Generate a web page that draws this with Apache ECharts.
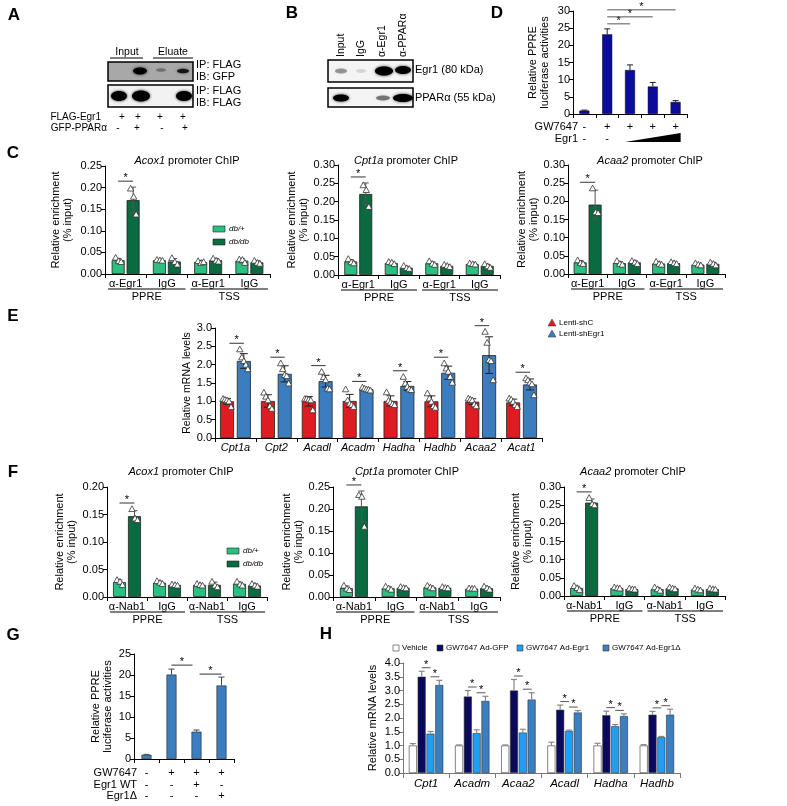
<!DOCTYPE html>
<html><head><meta charset="utf-8">
<script src="https://cdn.jsdelivr.net/npm/echarts@6/dist/echarts.min.js"></script>
<style>html,body{margin:0;padding:0;background:#fff}#c{width:787px;height:806px}</style>
</head><body><div id="c"></div>
<script>
const FONT = '"Liberation Sans", Arial, Helvetica, sans-serif';

// ---------- Panel D ----------
const dCats = ['c1','c2','c3','c4','c5'];
const dGW7647 = ['-','+','+','+','+'];
const dEgr1 = ['-','-'];
const dLuc = [1.0, 23.2, 12.8, 8.0, 3.5];
const dLucErr = [0.15, 1.6, 1.5, 1.2, 0.4];
const dSigPairs = [[1,2],[1,3],[1,4]];

// ---------- Panel C (ChIP with α-Egr1) ----------
const chipEgr1Cats = ['α-Egr1','IgG','α-Egr1','IgG'];
const chipNab1Cats = ['α-Nab1','IgG','α-Nab1','IgG'];
const chipGroups = ['PPRE','TSS'];

const cAcox1Plus = [0.032, 0.032, 0.028, 0.031];
const cAcox1PlusSd = [0.004, 0.002, 0.003, 0.005];
const cAcox1PlusPts = [[0.038,0.030,0.028],[0.033,0.032,0.031],[0.030,0.026,0.028],[0.034,0.033,0.026]];
const cAcox1Db = [0.171, 0.029, 0.032, 0.027];
const cAcox1DbSd = [0.030, 0.007, 0.004, 0.004];
const cAcox1DbPts = [[0.198,0.179,0.138],[0.037,0.028,0.022],[0.036,0.031,0.029],[0.031,0.026,0.024]];

const cCpt1aPlus = [0.037, 0.033, 0.032, 0.030];
const cCpt1aPlusSd = [0.005, 0.003, 0.004, 0.002];
const cCpt1aPlusPts = [[0.044,0.035,0.032],[0.036,0.034,0.030],[0.038,0.031,0.028],[0.032,0.030,0.029]];
const cCpt1aDb = [0.221, 0.020, 0.025, 0.025];
const cCpt1aDbSd = [0.030, 0.003, 0.003, 0.004];
const cCpt1aDbPts = [[0.245,0.232,0.186],[0.025,0.019,0.017],[0.028,0.025,0.022],[0.030,0.024,0.020]];

const cAcaa2Plus = [0.032, 0.030, 0.029, 0.026];
const cAcaa2PlusSd = [0.005, 0.004, 0.004, 0.003];
const cAcaa2PlusPts = [[0.038,0.030,0.028],[0.036,0.028,0.026],[0.034,0.028,0.026],[0.030,0.026,0.024]];
const cAcaa2Db = [0.191, 0.032, 0.030, 0.028];
const cAcaa2DbSd = [0.040, 0.004, 0.003, 0.004];
const cAcaa2DbPts = [[0.236,0.170,0.168],[0.036,0.032,0.028],[0.033,0.030,0.028],[0.032,0.028,0.024]];

// ---------- Panel E ----------
const eGenes = ['Cpt1a','Cpt2','Acadl','Acadm','Hadha','Hadhb','Acaa2','Acat1'];
const eShC = [1.00, 1.01, 1.00, 1.01, 1.01, 1.00, 0.99, 0.97];
const eShCSd = [0.08, 0.17, 0.13, 0.18, 0.14, 0.15, 0.08, 0.09];
const eShCPts = [[1.07,1.05,1.03,1.00,0.85],[1.24,1.13,1.03,0.87,0.80],[1.07,1.07,1.05,1.03,0.76],[1.33,1.03,0.94,0.90,0.85],
                 [1.25,1.02,0.97,0.93,0.90],[1.22,1.08,0.99,0.87,0.83],[1.08,1.05,1.03,0.92,0.87],[1.08,1.05,0.99,0.90,0.85]];
const eShEgr1 = [2.10, 1.75, 1.55, 1.33, 1.42, 1.78, 2.26, 1.46];
const eShEgr1Sd = [0.20, 0.22, 0.16, 0.03, 0.12, 0.18, 0.50, 0.15];
const eShEgr1Pts = [[2.42,2.20,2.10,2.00,1.88],[2.04,1.88,1.72,1.69,1.49],[1.81,1.66,1.58,1.35,1.33],[1.38,1.35,1.33,1.32,1.30],
                    [1.67,1.49,1.40,1.33,1.31],[2.04,1.90,1.81,1.67,1.51],[2.90,2.60,2.13,2.10,1.58],[1.63,1.58,1.51,1.47,1.17]];

// ---------- Panel F (ChIP with α-Nab1) ----------
const fAcox1Plus = [0.027, 0.026, 0.022, 0.024];
const fAcox1PlusSd = [0.004, 0.003, 0.002, 0.003];
const fAcox1PlusPts = [[0.031,0.028,0.022],[0.029,0.026,0.024],[0.024,0.022,0.021],[0.028,0.023,0.021]];
const fAcox1Db = [0.147, 0.022, 0.022, 0.021];
const fAcox1DbSd = [0.010, 0.001, 0.005, 0.003];
const fAcox1DbPts = [[0.160,0.143,0.140],[0.023,0.022,0.021],[0.028,0.021,0.018],[0.024,0.021,0.019]];

const fCpt1aPlus = [0.020, 0.020, 0.022, 0.019];
const fCpt1aPlusSd = [0.005, 0.003, 0.003, 0.001];
const fCpt1aPlusPts = [[0.026,0.019,0.016],[0.024,0.020,0.017],[0.026,0.022,0.020],[0.020,0.019,0.019]];
const fCpt1aDb = [0.206, 0.021, 0.021, 0.020];
const fCpt1aDbSd = [0.035, 0.002, 0.002, 0.003];
const fCpt1aDbPts = [[0.232,0.228,0.160],[0.023,0.021,0.020],[0.023,0.021,0.020],[0.024,0.020,0.017]];

const fAcaa2Plus = [0.022, 0.022, 0.019, 0.018];
const fAcaa2PlusSd = [0.005, 0.002, 0.004, 0.002];
const fAcaa2PlusPts = [[0.028,0.022,0.017],[0.024,0.022,0.021],[0.024,0.019,0.015],[0.021,0.018,0.016]];
const fAcaa2Db = [0.257, 0.019, 0.021, 0.019];
const fAcaa2DbSd = [0.010, 0.002, 0.002, 0.002];
const fAcaa2DbPts = [[0.270,0.253,0.250],[0.021,0.019,0.018],[0.024,0.021,0.019],[0.021,0.019,0.018]];

// ---------- Panel G ----------
const gCats = ['g1','g2','g3','g4'];
const gGW7647 = ['-','+','+','+'];
const gEgr1WT = ['-','-','+','-'];
const gEgr1Delta = ['-','-','-','+'];
const gLuc = [1.0, 20.1, 6.5, 17.5];
const gLucErr = [0.1, 1.3, 0.4, 2.0];

// ---------- Panel H ----------
const hGenes = ['Cpt1','Acadm','Acaa2','Acadl','Hadha','Hadhb'];
const hSeriesNames = ['Vehicle','GW7647 Ad-GFP','GW7647 Ad-Egr1','GW7647 Ad-Egr1Δ'];
const hVehicle = [1.0, 1.0, 1.0, 1.0, 1.0, 1.0];
const hVehicleErr = [0.07, 0.02, 0.02, 0.12, 0.08, 0.03];
const hGFP = [3.5, 2.78, 3.0, 2.3, 2.1, 2.12];
const hGFPErr = [0.2, 0.22, 0.4, 0.17, 0.15, 0.12];
const hEgr1 = [1.43, 1.45, 1.47, 1.53, 1.70, 1.30];
const hEgr1Err = [0.08, 0.12, 0.12, 0.03, 0.06, 0.03];
const hDelta = [3.2, 2.62, 2.67, 2.2, 2.07, 2.12];
const hDeltaErr = [0.17, 0.17, 0.25, 0.07, 0.08, 0.2];

// ---------- colours ----------
const C_LIGHT = '#2bc07f', C_DARK = '#0a6a40';
const C_RED = '#e11b22', C_BLUE = '#3b7dbf';
const C_NAVY = '#0b0b9c';
const H_COLORS = ['#ffffff', '#0a0a5c', '#1e9ef5', '#3b7fc1'];

const chart = echarts.init(document.getElementById('c'));
const grids = [], xAxes = [], yAxes = [], series = [];

function addGrid(l, t, w, h) { grids.push({left:l, top:t, width:w, height:h}); return grids.length - 1; }
function catAxis(gi, data, o) {
  o = o || {};
  return {type:'category', gridIndex:gi, data:data, boundaryGap:true,
    axisLine:{lineStyle:{color:o.lineColor||'#000', width:1}},
    axisTick:{show:true, length:o.tickLen||4, lineStyle:{color:o.lineColor||'#000'}},
    axisLabel:{show:o.showLabel!==false, interval:0, color:'#000', fontFamily:FONT, fontSize:o.size||11,
      fontStyle:o.italic?'italic':'normal', margin:o.margin||4}};
}
function valAxis(gi, max, interval, dec, name, gap, o) {
  o = o || {};
  return {type:'value', gridIndex:gi, min:0, max:max, interval:interval,
    splitLine:{show:false},
    axisLine:{show:true, lineStyle:{color:o.lineColor||'#000', width:1}},
    axisTick:{show:true, length:4, lineStyle:{color:o.lineColor||'#000'}},
    axisLabel:{color:'#000', fontFamily:FONT, fontSize:o.size||11, margin:3, formatter:v => v.toFixed(dec)},
    name:name, nameLocation:'middle', nameGap:gap, nameRotate:90,
    nameTextStyle:{color:'#000', fontFamily:FONT, fontSize:o.nameSize||11, lineHeight:12}};
}
function barS(gi, data, color, bw, gap, o) {
  o = o || {};
  return {type:'bar', xAxisIndex:gi, yAxisIndex:gi, data:data, barWidth:bw, barGap:gap, z:2,
    itemStyle:{color:color, borderColor:o.border||'#222', borderWidth:o.bwid==null?0.8:o.bwid}, silent:true};
}
function errS(gi, means, sds, pts, offset, o) {
  return {type:'custom', xAxisIndex:gi, yAxisIndex:gi, z:5, silent:true,
    data: means.map((m, i) => [i, m, sds[i]]),
    renderItem: function (params, api) {
      const i = api.value(0), m = api.value(1), sd = api.value(2);
      const x = api.coord([i, m])[0] + offset;
      const yt = api.coord([i, m + sd])[1];
      const yb = api.coord([i, o.both ? m - sd : m])[1];
      const st = {stroke:o.color, lineWidth:o.lw || 1};
      const ch = [
        {type:'line', shape:{x1:x, y1:yt, x2:x, y2:yb}, style:st},
        {type:'line', shape:{x1:x - o.cap, y1:yt, x2:x + o.cap, y2:yt}, style:st}
      ];
      if (o.both) ch.push({type:'line', shape:{x1:x - o.cap, y1:yb, x2:x + o.cap, y2:yb}, style:st});
      if (pts) {
        const s = o.tri || 3.2;
        pts[i].forEach((p, k) => {
          const y = api.coord([i, p])[1];
          const px = x + o.jit[k % o.jit.length];
          ch.push({type:'polygon', shape:{points:[[px, y - s], [px - s, y + s * 0.8], [px + s, y + s * 0.8]]},
            style:{fill:'#fff', stroke:'#333', lineWidth:0.8}});
        });
      }
      return {type:'group', children:ch};
    }};
}

const chipErr = {both:true, color:'#555', cap:3, jit:[-2.5, 0.5, 3], tri:3.2};
const chipPanels = [];
function chip(l, t, w, h, cats, ymax, gap, plus, plusSd, plusPts, db, dbSd, dbPts, title, titleX, titleY) {
  const gi = addGrid(l, t, w, h);
  xAxes.push(catAxis(gi, cats, {}));
  yAxes.push(valAxis(gi, ymax, 0.05, 2, 'Relative enrichment\n(% input)', gap, {}));
  series.push(barS(gi, plus, C_LIGHT, 13, '15%'));
  series.push(barS(gi, db, C_DARK, 13, '15%'));
  series.push(errS(gi, plus, plusSd, plusPts, -7.5, chipErr));
  series.push(errS(gi, db, dbSd, dbPts, 7.5, chipErr));
  chipPanels.push({gi, db, dbSd, dbPts, title, titleX, titleY});
  return gi;
}

// D
const gD = addGrid(573, 11, 114, 103);
xAxes.push(catAxis(gD, dCats, {showLabel:false}));
yAxes.push(valAxis(gD, 30, 5, 0, 'Relative PPRE\nluciferase activities', 22, {}));
series.push(barS(gD, dLuc, C_NAVY, 10, '0%', {border:'#000', bwid:0.5}));
series.push(errS(gD, dLuc, dLucErr, null, 0, {both:false, color:'#222', cap:3}));

// C
chip(105, 166, 165, 108, chipEgr1Cats, 0.25, 31, cAcox1Plus, cAcox1PlusSd, cAcox1PlusPts, cAcox1Db, cAcox1DbSd, cAcox1DbPts, 'Acox1', 187, 161);
chip(338, 165, 162, 110, chipEgr1Cats, 0.30, 28, cCpt1aPlus, cCpt1aPlusSd, cCpt1aPlusPts, cCpt1aDb, cCpt1aDbSd, cCpt1aDbPts, 'Cpt1a', 406, 161);
chip(568, 165, 157, 109, chipEgr1Cats, 0.30, 26, cAcaa2Plus, cAcaa2PlusSd, cAcaa2PlusPts, cAcaa2Db, cAcaa2DbSd, cAcaa2DbPts, 'Acaa2', 650, 161);

// E
const gE = addGrid(215, 328, 327, 110);
xAxes.push(catAxis(gE, eGenes, {italic:true, size:11, margin:4}));
yAxes.push(valAxis(gE, 3.0, 0.5, 1, 'Relative mRNA levels', 22, {nameSize:10.5}));
series.push(barS(gE, eShC, C_RED, 14, '20%'));
series.push(barS(gE, eShEgr1, C_BLUE, 14, '20%'));
const eErr = {both:true, color:'#222', cap:4, jit:[-4, -2, 0, 2, 4], tri:3.2};
series.push(errS(gE, eShC, eShCSd, eShCPts, -8.4, eErr));
series.push(errS(gE, eShEgr1, eShEgr1Sd, eShEgr1Pts, 8.4, eErr));

// F
chip(107, 487, 160, 110, chipNab1Cats, 0.20, 29, fAcox1Plus, fAcox1PlusSd, fAcox1PlusPts, fAcox1Db, fAcox1DbSd, fAcox1DbPts, 'Acox1', 181, 472);
chip(333, 487, 167, 110, chipNab1Cats, 0.25, 26, fCpt1aPlus, fCpt1aPlusSd, fCpt1aPlusPts, fCpt1aDb, fCpt1aDbSd, fCpt1aDbPts, 'Cpt1a', 407, 472);
chip(564, 487, 161, 109, chipNab1Cats, 0.30, 30, fAcaa2Plus, fAcaa2PlusSd, fAcaa2PlusPts, fAcaa2Db, fAcaa2DbSd, fAcaa2DbPts, 'Acaa2', 633, 472);

// G
const gG = addGrid(134, 654, 100, 105);
xAxes.push(catAxis(gG, gCats, {showLabel:false}));
yAxes.push(valAxis(gG, 25, 5, 0, 'Relative PPRE\nluciferase activities', 20, {}));
series.push(barS(gG, gLuc, C_BLUE, 10, '0%', {border:'#222', bwid:0.6}));
series.push(errS(gG, gLuc, gLucErr, null, 0, {both:false, color:'#444', cap:3}));

// H
const gH = addGrid(403, 663, 277, 110);
xAxes.push(catAxis(gH, hGenes, {italic:true, size:11.5, margin:5, lineColor:'#777', tickLen:5}));
yAxes.push(valAxis(gH, 4.0, 0.5, 1, 'Relative mRNA levels', 24, {lineColor:'#777', size:11}));
const hData = [[hVehicle, hVehicleErr], [hGFP, hGFPErr], [hEgr1, hEgr1Err], [hDelta, hDeltaErr]];
const hOff = [-13.2, -4.4, 4.4, 13.2];
hData.forEach((d, k) => series.push(barS(gH, d[0], H_COLORS[k], 8, '10%', {border:'#333', bwid:0.6})));
hData.forEach((d, k) => series.push(errS(gH, d[0], d[1], null, hOff[k], {both:false, color:'#888', cap:3, lw:1.2})));

chart.setOption({animation:false, backgroundColor:'#fff', textStyle:{fontFamily:FONT},
  grid:grids, xAxis:xAxes, yAxis:yAxes, series:series});

// ---------- annotations ----------
const gfx = [];
function P(gi, x, y) { return chart.convertToPixel({xAxisIndex:gi, yAxisIndex:gi}, [x, y]); }
function txt(x, y, text, o) {
  o = o || {};
  const st = {text:text, fill:o.color || '#000', fontFamily:FONT, fontSize:o.size || 11,
    fontWeight:o.weight || 'normal', fontStyle:o.style || 'normal',
    align:o.align || 'center', verticalAlign:o.va || 'middle'};
  if (o.rich) st.rich = o.rich;
  return {type:'text', x:x, y:y, rotation:o.rot || 0, silent:true, style:st};
}
function line(x1, y1, x2, y2, color, w) {
  return {type:'line', silent:true, shape:{x1, y1, x2, y2}, style:{stroke:color || '#000', lineWidth:w || 1}};
}
function rect(x, y, w, h, fill, stroke, lw) {
  return {type:'rect', silent:true, shape:{x, y, width:w, height:h}, style:{fill:fill, stroke:stroke || null, lineWidth:lw || 0}};
}
function band(cx, cy, rx, ry, a) {
  return {type:'ellipse', silent:true, shape:{cx, cy, rx, ry},
    style:{fill:'rgba(0,0,0,' + a + ')', shadowBlur:3, shadowColor:'rgba(0,0,0,' + (a * 0.8) + ')'}};
}
function sig(x1, x2, y, color) {
  gfx.push(line(x1, y, x2, y, color || '#333', 1));
  gfx.push(txt((x1 + x2) / 2, y - 3, '*', {size:11}));
}

// panel letters
[['A', 14, 15], ['B', 292, 13], ['C', 13, 153], ['D', 497, 13], ['E', 13, 316], ['F', 13, 472], ['G', 13, 635], ['H', 326, 634]]
  .forEach(p => gfx.push(txt(p[1], p[2], p[0], {size:17, weight:'bold'})));

// ----- blot A -----
gfx.push(txt(127, 52, 'Input', {size:10.5}));
gfx.push(line(110, 58, 143, 58));
gfx.push(txt(173, 52, 'Eluate', {size:10.5}));
gfx.push(line(153, 58, 193, 58));
gfx.push(rect(108, 62, 85, 19, '#a8a8a8', '#000', 1.5));
gfx.push(band(140, 71, 7, 3.5, 0.95));
gfx.push(band(161, 70, 5, 1.8, 0.3));
gfx.push(band(183, 71, 6, 2.3, 0.8));
gfx.push(rect(108, 85, 85, 22, '#f2f2f2', '#000', 1.5));
gfx.push(band(119, 96, 8, 5, 1));
gfx.push(band(141, 96, 9, 5.5, 1));
gfx.push(band(184, 96, 8, 5, 1));
[['IP: FLAG', 65], ['IB: GFP', 77], ['IP: FLAG', 91], ['IB: FLAG', 103]].forEach(r => gfx.push(txt(196, r[1], r[0], {align:'left'})));
gfx.push(txt(101, 117, 'FLAG-Egr1', {align:'right', size:10}));
['+', '+', '+', '+'].forEach((s, i) => gfx.push(txt([122, 138, 160, 183][i], 117, s, {size:10})));
gfx.push(txt(107, 128, 'GFP-PPARα', {align:'right', size:10}));
['-', '+', '-', '+'].forEach((s, i) => gfx.push(txt([118, 137, 162, 185][i], 128, s, {size:10})));

// ----- blot B -----
[['Input', 341], ['IgG', 361], ['α-Egr1', 382], ['α-PPARα', 403]].forEach(r => gfx.push(txt(r[1], 57, r[0], {align:'left', rot:Math.PI / 2, size:10.5})));
gfx.push(rect(328, 60, 85, 22, '#f4f4f4', '#000', 1.5));
gfx.push(band(341, 71, 6, 2.5, 0.35));
gfx.push(band(361, 71, 5, 2, 0.12));
gfx.push(band(384, 71, 9, 4.5, 1));
gfx.push(band(403, 70, 8, 4, 0.95));
gfx.push(rect(328, 88, 85, 19, '#f4f4f4', '#000', 1.5));
gfx.push(band(341, 98, 8, 3.5, 1));
gfx.push(band(383, 98, 7, 2.5, 0.45));
gfx.push(band(403, 98, 10, 4, 1));
gfx.push(txt(415, 70, 'Egr1 (80 kDa)', {align:'left'}));
gfx.push(txt(415, 98, 'PPARα (55 kDa)', {align:'left'}));

// ----- D annotations -----
(function () {
  const yRow1 = 127, yRow2 = 139;
  gfx.push(txt(578, yRow1, 'GW7647', {align:'right'}));
  gfx.push(txt(578, yRow2, 'Egr1', {align:'right'}));
  dGW7647.forEach((s, i) => gfx.push(txt(P(gD, i, 0)[0], yRow1, s)));
  dEgr1.forEach((s, i) => gfx.push(txt(P(gD, i, 0)[0], yRow2, s)));
  const xl = P(gD, 2, 0)[0] - 5, xr = P(gD, 4, 0)[0] + 5;
  gfx.push({type:'polygon', silent:true, shape:{points:[[xl, yRow2 + 3], [xr, yRow2 - 6], [xr, yRow2 + 3]]}, style:{fill:'#000'}});
  const top = P(gD, 1, dLuc[1] + dLucErr[1])[1];
  dSigPairs.forEach((pr, k) => {
    const y = top - 5 - 7 * k;
    sig(P(gD, pr[0], 0)[0], P(gD, pr[1], 0)[0], y, '#555');
  });
})();

// ----- ChIP annotations -----
chipPanels.forEach((cp, idx) => {
  const gi = cp.gi;
  const y0 = P(gi, 0, 0)[1];
  gfx.push(txt(cp.titleX, cp.titleY, '{i|' + cp.title + '} promoter ChIP',
    {rich:{i:{fontStyle:'italic', fontFamily:FONT, fontSize:11, fill:'#000'}}}));
  const half = (P(gi, 1, 0)[0] - P(gi, 0, 0)[0]) / 2;
  const uy = y0 + 15;
  chipGroups.forEach((g, k) => {
    const xa = P(gi, 2 * k, 0)[0] - half + 3, xb = P(gi, 2 * k + 1, 0)[0] + half - 2;
    gfx.push(line(xa, uy, xb, uy, '#000', 1));
    gfx.push(txt((xa + xb) / 2, uy + 8, g));
  });
  const hi = Math.max(cp.db[0] + cp.dbSd[0], Math.max.apply(null, cp.dbPts[0]));
  const ys = P(gi, 0, hi)[1] - 6;
  const xc = P(gi, 0, 0)[0];
  sig(xc - 7.5, xc + 7.5, ys);
  if (idx === 0 || idx === 3) {
    const lx = idx === 0 ? 213 : 227, ly = idx === 0 ? 226 : 548;
    gfx.push(rect(lx, ly, 12, 6, C_LIGHT, '#222', 0.6));
    gfx.push(txt(lx + 16, ly + 3, 'db/+', {align:'left', size:8, style:'italic'}));
    gfx.push(rect(lx, ly + 13, 12, 6, C_DARK, '#222', 0.6));
    gfx.push(txt(lx + 16, ly + 16, 'db/db', {align:'left', size:8, style:'italic'}));
  }
});

// ----- E annotations -----
(function () {
  eGenes.forEach((g, i) => {
    const hi = Math.max(eShEgr1[i] + eShEgr1Sd[i], Math.max.apply(null, eShEgr1Pts[i]));
    const y = P(gE, i, hi)[1] - 6;
    const xc = P(gE, i, 0)[0];
    sig(xc - 6, xc + 8.4, y);
  });
  const lx = 552;
  [[C_RED, 'Lenti-shC', 323], [C_BLUE, 'Lenti-shEgr1', 334]].forEach(r => {
    gfx.push({type:'polygon', silent:true, shape:{points:[[lx, r[2] - 4], [lx - 4, r[2] + 3], [lx + 4, r[2] + 3]]}, style:{fill:r[0], stroke:'#333', lineWidth:0.5}});
    gfx.push(txt(lx + 7, r[2], r[1], {align:'left', size:8}));
  });
})();

// ----- G annotations -----
(function () {
  const rows = [['GW7647', gGW7647, 773], ['Egr1 WT', gEgr1WT, 785], ['Egr1Δ', gEgr1Delta, 796]];
  rows.forEach(r => {
    gfx.push(txt(137, r[2], r[0], {align:'right'}));
    r[1].forEach((s, i) => gfx.push(txt(P(gG, i, 0)[0], r[2], s)));
  });
  const y1 = P(gG, 1, gLuc[1] + gLucErr[1])[1] - 4;
  sig(P(gG, 1, 0)[0], P(gG, 2, 0)[0] - 4, y1, '#333');
  const y2 = P(gG, 3, gLuc[3] + gLucErr[3])[1] - 3;
  sig(P(gG, 2, 0)[0] + 3, P(gG, 3, 0)[0], y2, '#333');
})();

// ----- H annotations -----
(function () {
  hGenes.forEach((g, i) => {
    const xc = P(gH, i, 0)[0];
    const y1 = P(gH, i, hGFP[i] + hGFPErr[i])[1] - 3.5;
    sig(xc + hOff[1], xc + hOff[2], y1, '#555');
    const y2 = P(gH, i, hDelta[i] + hDeltaErr[i])[1] - 3.5;
    sig(xc + hOff[2], xc + hOff[3], y2, '#555');
  });
  const lg = [[393, 0], [437, 1], [517, 2], [603, 3]];
  lg.forEach(l => {
    gfx.push(rect(l[0], 645, 6, 6, H_COLORS[l[1]], '#333', 0.6));
    gfx.push(txt(l[0] + 9, 648, hSeriesNames[l[1]], {align:'left', size:8}));
  });
})();

chart.setOption({graphic:gfx});
</script></body></html>
